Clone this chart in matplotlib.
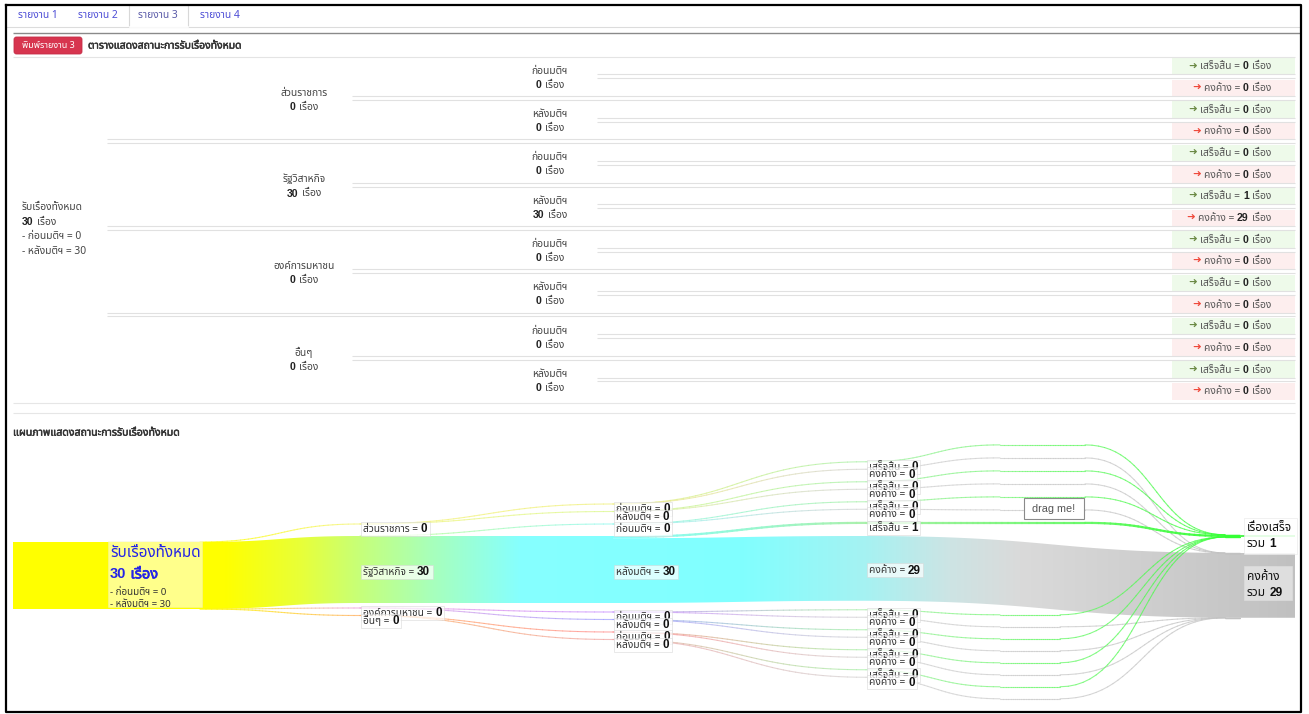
import numpy as np
import matplotlib
matplotlib.use('Agg')
import matplotlib.pyplot as plt
import matplotlib.patheffects as pe
from matplotlib import font_manager
from matplotlib.patches import Rectangle, FancyBboxPatch, Polygon
from matplotlib.collections import LineCollection
from matplotlib.colors import to_rgb

# ---------------- data ----------------
tab_labels = ['รายงาน 1', 'รายงาน 2', 'รายงาน 3', 'รายงาน 4']
active_tab = 2
print_label = 'พิมพ์รายงาน 3'
table_title = 'ตารางแสดงสถานะการรับเรื่องทั้งหมด'
chart_title = 'แผนภาพแสดงสถานะการรับเรื่องทั้งหมด'
total_label = 'รับเรื่องทั้งหมด'
unit_label = 'เรื่อง'
phase_labels = ['ก่อนมติฯ', 'หลังมติฯ']
category_labels = ['ส่วนราชการ', 'รัฐวิสาหกิจ', 'องค์การมหาชน', 'อื่นๆ']
status_labels = ['เสร็จสิ้น', 'คงค้าง']
done_counts = [[0, 0], [0, 1], [0, 0], [0, 0]]        # [category][phase]
pending_counts = [[0, 0], [0, 29], [0, 0], [0, 0]]    # [category][phase]
final_labels = ['เรื่องเสร็จ', 'คงค้าง']
sum_prefix = 'รวม'
drag_text = 'drag me!'

status_counts = [done_counts, pending_counts]
nC, nP, nS = len(category_labels), len(phase_labels), len(status_labels)
phase_counts = [[sum(status_counts[s][c][p] for s in range(nS)) for p in range(nP)] for c in range(nC)]
cat_totals = [sum(phase_counts[c]) for c in range(nC)]
phase_totals = [sum(phase_counts[c][p] for c in range(nC)) for p in range(nP)]
grand_total = sum(cat_totals)
final_totals = [sum(status_counts[s][c][p] for c in range(nC) for p in range(nP)) for s in range(nS)]


# ---------------- fonts ----------------
def find_thai_font():
    prefs = ['Noto Sans Thai', 'Noto Sans Thai UI', 'Tahoma', 'Leelawadee UI', 'Loma', 'Garuda',
             'Sarabun', 'Waree', 'Umpush', 'Kinnari', 'Norasi', 'Laksaman', 'Tlwg Typo',
             'Noto Serif Thai', 'Noto Looped Thai', 'FreeSans', 'FreeSerif']
    avail = {f.name for f in font_manager.fontManager.ttflist}
    for p in prefs:
        if p in avail:
            return p
    try:
        from fontTools.ttLib import TTFont
        seen = set()
        for f in font_manager.fontManager.ttflist:
            if f.fname in seen:
                continue
            seen.add(f.fname)
            try:
                tt = TTFont(f.fname, fontNumber=0, lazy=True)
                cm = tt.getBestCmap() or {}
                if 0x0E23 in cm and 0x0E37 in cm:
                    return f.name
            except Exception:
                continue
    except Exception:
        pass
    return None


TF = find_thai_font()
FAM = [TF, 'DejaVu Sans'] if TF else ['DejaVu Sans']
LATIN = ['Liberation Sans', 'DejaVu Sans']
plt.rcParams['font.family'] = FAM

fig = plt.figure(figsize=(13.09, 7.14), dpi=100)
ax = fig.add_axes([0, 0, 1, 1])
ax.set_xlim(0, 1309)
ax.set_ylim(714, 0)
ax.set_autoscale_on(False)
ax.axis('off')
R = fig.canvas.get_renderer()
PX = 100 / 72.0
BASE = 0.30


def is_ascii(s):
    return all(ord(ch) < 128 for ch in s)


def rich(x, y, parts, ha='left', z=5, clip=None):
    """parts: (text, size, weight, color[, family]); y = visual centre of the line (px)."""
    items = []
    for part in parts:
        s, size, weight, color = part[:4]
        fam_override = part[4] if len(part) > 4 else None
        lead = len(s) - len(s.lstrip(' '))
        trail = len(s) - len(s.rstrip(' '))
        st = s.strip(' ')
        if fam_override is not None:
            fam, fw, eff = fam_override, weight, None
        elif is_ascii(st):
            fam, fw, eff = LATIN, weight, None
        else:
            fam, fw = FAM, 'normal'
            eff = [pe.withStroke(linewidth=size * 0.045, foreground=color)] if weight == 'bold' else None
        t = ax.text(0, 0, st, fontsize=size, fontweight=fw, color=color,
                    family=fam, va='baseline', ha='left', zorder=z)
        if eff:
            t.set_path_effects(eff)
        w = t.get_window_extent(R).width if st else 0
        sp = 0.28 * size * PX
        items.append((t, lead * sp, w, trail * sp, size))
    total = sum(a + w + b for _, a, w, b, _ in items)
    if ha == 'center':
        x0 = x - total / 2
    elif ha == 'right':
        x0 = x - total
    else:
        x0 = x
    cx = x0
    for t, a, w, b, size in items:
        cx += a
        t.set_position((cx, y + BASE * size * PX))
        cx += w + b
        if clip is not None:
            t.set_clip_path(clip)
    return x0, x0 + total


def hline(y, x0, x1, color, lw=0.8, z=1.5):
    ax.plot([x0, x1], [y, y], color=color, lw=lw, zorder=z, solid_capstyle='butt')


# ---------------- frame & header ----------------
FR_L, FR_R, FR_T, FR_B = 6, 1301, 5, 712
ax.plot([FR_L, FR_R, FR_R, FR_L, FR_L], [FR_T, FR_T, FR_B, FR_B, FR_T], color='black', lw=1.6, zorder=20)

tab_x = [38, 98, 158, 220]
tab_box = (129, 188)
ax.add_patch(Rectangle((tab_box[0], FR_T), tab_box[1] - tab_box[0], 22, fc='white', ec='#d8d8d8', lw=0.8, zorder=2))
hline(27, FR_L, tab_box[0], '#dcdcdc', 0.8)
hline(27, tab_box[1], FR_R, '#dcdcdc', 0.8)
ax.plot([tab_box[0] + 0.5, tab_box[1] - 0.5], [27, 27], color='white', lw=1.2, zorder=2.5)
for i, lab in enumerate(tab_labels):
    rich(tab_x[i], 15, [(lab, 7.4, 'normal', '#4d4dd6' if i != active_tab else '#5a5aa8')], ha='center', z=3)
hline(32.5, 13, FR_R, '#8a8a8a', 1.0)

ax.add_patch(FancyBboxPatch((14, 37), 68, 17, boxstyle='round,pad=0,rounding_size=2.5',
                            fc='#d7354f', ec='#c42c46', lw=0.6, zorder=3))
rich(48, 45.5, [(print_label, 6.5, 'normal', 'white')], ha='center', z=4)
rich(88, 45.5, [(table_title, 7.5, 'bold', '#333333')], z=4)
hline(56.5, 13, 1295, '#e4e4e4', 0.8)

# ---------------- table ----------------
T0, RH = 57.0, 21.65
TAB_R = 1295
X_CAT, X_SUB, X_RES = 304, 550, 1271
X_CATLINE, X_SUBLINE, X_RESLINE = 107, 352, 597
RES_BG_X0 = 1172
res_bg = ['#eefaea', '#fdeeee']
arrow_col = ['#6b8a45', '#ef4a3c']
LINE_C = '#e1e1e1'
FS = 7.4
FSB = 7.6
n_rows = nC * nP * nS

for c in range(nC):
    for p in range(nP):
        for s in range(nS):
            r = (c * nP + p) * nS + s
            top = T0 + RH * r
            ax.add_patch(Rectangle((RES_BG_X0, top + 1.0), TAB_R - RES_BG_X0, RH - 4.2,
                                   fc=res_bg[s], ec='none', zorder=1))
            v = status_counts[s][c][p]
            rich(X_RES, top + RH / 2 - 1.5,
                 [('➜', 7.5, 'normal', arrow_col[s], ['DejaVu Sans']),
                  (' ' + status_labels[s] + ' = ', FS, 'normal', '#555555'),
                  (str(v), FSB, 'bold', '#222222'),
                  (' ' + unit_label, FS, 'normal', '#555555')], ha='right', z=3)

for r in range(1, n_rows):
    b = T0 + RH * r
    if r % (nP * nS) == 0:
        x0 = X_CATLINE
    elif r % nS == 0:
        x0 = X_SUBLINE
    else:
        x0 = X_RESLINE
    hline(b - 4.2, x0, TAB_R, LINE_C, 0.8)
    hline(b - 0.3, x0, TAB_R, LINE_C, 0.8)
b_end = T0 + RH * n_rows
hline(b_end, 13, TAB_R, '#e6e6e6', 0.8)
hline(b_end + 9.5, 13, TAB_R, '#e6e6e6', 0.8)

# category column
for c in range(nC):
    cy = T0 + RH * nP * nS * (c + 0.5)
    rich(X_CAT, cy - 7.5, [(category_labels[c], FS, 'normal', '#444444')], ha='center', z=3)
    rich(X_CAT, cy + 6.5, [(str(cat_totals[c]), FSB, 'bold', '#222222'),
                           (' ' + unit_label, FS, 'normal', '#444444')], ha='center', z=3)
    for p in range(nP):
        sy = T0 + RH * nS * (c * nP + p + 0.5)
        rich(X_SUB, sy - 8.0, [(phase_labels[p], FS, 'normal', '#444444')], ha='center', z=3)
        rich(X_SUB, sy + 6.0, [(str(phase_counts[c][p]), FSB, 'bold', '#222222'),
                               (' ' + unit_label, FS, 'normal', '#444444')], ha='center', z=3)

# left summary column
mid = T0 + RH * n_rows / 2
rich(22, mid - 23, [(total_label, FS, 'normal', '#444444')], z=3)
rich(22, mid - 8.5, [(str(grand_total), FSB, 'bold', '#222222'), (' ' + unit_label, FS, 'normal', '#444444')], z=3)
for p in range(nP):
    rich(22, mid + 6 + 14.5 * p, [('- ' + phase_labels[p] + ' = ' + str(phase_totals[p]), FS, 'normal', '#444444')], z=3)

rich(13, 432.5, [(chart_title, 7.6, 'bold', '#333333')], z=3)

# ---------------- sankey ----------------
K = 67.0 / 30.0               # px per item
X = [13, 360, 613, 866, 1240]
X_OUT = [200, 360, 613, 866, 1295]
X_END = 1295

cols = [
    [dict(val=grand_total, grp='root')],
    [dict(val=cat_totals[c], grp='T') for c in range(nC)],
    [dict(val=phase_counts[c][p], grp=c) for c in range(nC) for p in range(nP)],
    [dict(val=status_counts[s][c][p], grp=(c, p)) for c in range(nC) for p in range(nP) for s in range(nS)],
    [dict(val=final_totals[s], grp='F') for s in range(nS)],
]
lay = [(542, 0, 0, 0, 0), (536, 12, 5, 7.5, 12.5), (536, 12, 9, 7.5, 12.5),
       (536, 12, 9, 7.5, 12.5), (553, 16, 9, 7.5, 12.5)]

for ci, nodes in enumerate(cols):
    anchor, fa, fb, same, diff = lay[ci]
    vals = [n['val'] for n in nodes]
    big = int(np.argmax(vals))
    nodes[big]['top'] = anchor
    prev = anchor + vals[big] * K
    for i in range(big + 1, len(nodes)):
        g = fb if i == big + 1 else (same if nodes[i]['grp'] == nodes[i - 1]['grp'] else diff)
        nodes[i]['top'] = prev + g
        prev = nodes[i]['top'] + vals[i] * K
    prev = anchor
    for i in range(big - 1, -1, -1):
        g = fa if i == big - 1 else (same if nodes[i]['grp'] == nodes[i + 1]['grp'] else diff)
        nodes[i]['top'] = prev - g - vals[i] * K
        prev = nodes[i]['top']
    for n in nodes:
        n['h'] = n['val'] * K
        n['col'] = ci
    cols[ci] = nodes

links = []
for c in range(nC):
    links.append(dict(sc=0, si=0, tc=1, ti=c, v=cat_totals[c]))
for c in range(nC):
    for p in range(nP):
        links.append(dict(sc=1, si=c, tc=2, ti=c * nP + p, v=phase_counts[c][p]))
for c in range(nC):
    for p in range(nP):
        for s in range(nS):
            links.append(dict(sc=2, si=c * nP + p, tc=3, ti=(c * nP + p) * nS + s, v=status_counts[s][c][p]))
for c in range(nC):
    for p in range(nP):
        for s in range(nS):
            links.append(dict(sc=3, si=(c * nP + p) * nS + s, tc=4, ti=s, v=status_counts[s][c][p]))

# offsets (d3-like stacking)
for ci in range(5):
    for ni, node in enumerate(cols[ci]):
        outs = sorted([l for l in links if l['sc'] == ci and l['si'] == ni], key=lambda l: cols[l['tc']][l['ti']]['top'])
        y = node['top']
        for l in outs:
            l['sy0'] = y
            y += l['v'] * K
            l['sy1'] = y
        ins = sorted([l for l in links if l['tc'] == ci and l['ti'] == ni], key=lambda l: cols[l['sc']][l['si']]['top'])
        y = node['top']
        for l in ins:
            l['ty0'] = y
            y += l['v'] * K
            l['ty1'] = y

node_col = [
    ['#ffff00'],
    ['#f4f47a', '#c0ff80', '#f0a0e0', '#ffb060'],
    ['#f0f080', '#dcf890', '#90f8f0', '#80ffff', '#c890ff', '#a0a0ff', '#ff9090', '#f0a8a8'],
    ['#a8f0a8', '#d4d4d4'] * (nC * nP),
    ['#33ff33', '#c2c2c2'],
]


def bez(x0, y0, x1, y1, n=40):
    t = np.linspace(0, 1, n)
    xm = (x0 + x1) / 2
    bx = (1 - t) ** 3 * x0 + 3 * (1 - t) ** 2 * t * xm + 3 * (1 - t) * t ** 2 * xm + t ** 3 * x1
    by = (1 - t) ** 3 * y0 + 3 * (1 - t) ** 2 * t * y0 + 3 * (1 - t) * t ** 2 * y1 + t ** 3 * y1
    return bx, by


def spath(pts, n=30):
    xs, ys = [pts[0][0]], [pts[0][1]]
    for (x0, y0), (x1, y1) in zip(pts[:-1], pts[1:]):
        bx, by = bez(x0, y0, x1, y1, n)
        xs.extend(bx[1:])
        ys.extend(by[1:])
    return np.array(xs), np.array(ys)


def grad_line(xs, ys, c0, c1, lw_px, alpha, z):
    pts = np.column_stack([xs, ys])
    segs = np.stack([pts[:-1], pts[1:]], axis=1)
    xm = (xs[:-1] + xs[1:]) / 2
    f = np.clip((xm - xs[0]) / max(xs[-1] - xs[0], 1e-6), 0, 1)
    a, b = np.array(to_rgb(c0)), np.array(to_rgb(c1))
    cc = a[None, :] * (1 - f[:, None]) + b[None, :] * f[:, None]
    cc = np.column_stack([cc, np.full(len(f), alpha)])
    ax.add_collection(LineCollection(segs, colors=cc, linewidths=lw_px * 0.72, zorder=z, capstyle='round'))


# levels used by the last stage (status -> final)
c3 = cols[3]
big3 = int(np.argmax([n['val'] for n in c3]))
up_ref = c3[big3 - 1]['top'] + c3[big3 - 1]['h'] / 2
low_ref = c3[big3 + 1]['top'] + 5


def last_stage_path(l):
    i = l['si']
    sy = (l['sy0'] + l['sy1']) / 2
    ty = (l['ty0'] + l['ty1']) / 2
    if i < big3:
        level = up_ref - 13 * (big3 - 1 - i)
        pts = [(X[3], sy), (1000, level), (1085, level), (1225, ty), (X[4], ty)]
    else:
        level = low_ref + 12 * (i - big3 - 1)
        pts = [(X[3], sy), (1000, level), (1060, level), (1225, ty), (X[4], ty)]
    if abs(sy - level) < 0.5:
        pts = pts[0:1] + pts[2:]
    return spath(pts)


# main band (chain of thick links)
chain = []
cur = (0, 0)
while True:
    outs = [l for l in links if (l['sc'], l['si']) == cur and l['v'] * K >= 4]
    if not outs:
        break
    l = max(outs, key=lambda q: q['v'])
    chain.append(l)
    cur = (l['tc'], l['ti'])

n0 = cols[0][0]
bx_all = [np.array([X[0], X_OUT[0]])]
top_all = [np.array([n0['top'], n0['top']])]
bot_all = [np.array([n0['top'] + n0['h'], n0['top'] + n0['h']])]
for l in chain:
    x0, x1 = X_OUT[l['sc']], X[l['tc']]
    bx, bt = bez(x0, l['sy0'], x1, l['ty0'])
    _, bb = bez(x0, l['sy1'], x1, l['ty1'])
    bx_all.append(bx); top_all.append(bt); bot_all.append(bb)
endn = cols[cur[0]][cur[1]]
bx_all.append(np.array([X[cur[0]], X_END]))
top_all.append(np.array([endn['top'], endn['top']]))
bot_all.append(np.array([endn['top'] + endn['h']] * 2))
bx_all = np.concatenate(bx_all)
top_all = np.concatenate(top_all)
bot_all = np.concatenate(bot_all)
outline = np.vstack([np.column_stack([bx_all, top_all]), np.column_stack([bx_all[::-1], bot_all[::-1]])])

ramp_x = [13, 225, 300, 360, 430, 520, 740, 866, 950, 1020, 1240, 1295]
ramp_c = ['#ffff00', '#ffff00', '#e8ff38', '#c6ff7a', '#a8ffba', '#86ffff', '#80ffff', '#a6f2f2',
          '#cde4e4', '#dadada', '#c6c6c6', '#c0c0c0']
gx = np.arange(X[0], X_END + 1)
rgb = np.column_stack([np.interp(gx, ramp_x, [to_rgb(c)[k] for c in ramp_c]) for k in range(3)])
im = ax.imshow(rgb[np.newaxis, :, :], extent=[X[0], X_END + 1, 640, 520], aspect='auto',
               interpolation='bilinear', zorder=2)
clip_poly = Polygon(outline, closed=True, fc='none', ec='none', transform=ax.transData)
ax.add_patch(clip_poly)
im.set_clip_path(clip_poly)

# other links
chain_ids = {id(l) for l in chain}
for l in links:
    if id(l) in chain_ids:
        continue
    c0 = node_col[l['sc']][l['si']]
    c1 = node_col[l['tc']][l['ti']]
    if l['sc'] == 3:
        xs, ys = last_stage_path(l)
    else:
        xs, ys = bez(X_OUT[l['sc']], (l['sy0'] + l['sy1']) / 2, X[l['tc']], (l['ty0'] + l['ty1']) / 2)
    if l['v'] == 0:
        grad_line(xs, ys, c0, c1, 1.1, 0.75, 3)
    else:
        grad_line(xs, ys, c0, c1, max(l['v'] * K, 1.2), 0.95, 3.5)

# final 'done' node
fd = cols[4][0]
ax.add_patch(Rectangle((X[4], fd['top']), X_END - X[4], max(fd['h'], 1.5), fc='#55f555', ec='none', zorder=3.5))

# node labels
zc = [10]


def node_label(x, y, parts):
    z = zc[0]
    zc[0] += 1
    x0, x1 = rich(x + 3, y, parts, z=z + 0.5)
    ax.add_patch(Rectangle((x + 0.5, y - 7), x1 - x0 + 5, 14, fc='white', alpha=0.72,
                           ec='#d5d5d5', lw=0.5, zorder=z))


LFS, LFB = 7.3, 8.4
for ci, names in [(1, category_labels),
                  (2, [phase_labels[p] for c in range(nC) for p in range(nP)]),
                  (3, [status_labels[s] for c in range(nC) for p in range(nP) for s in range(nS)])]:
    for ni, node in enumerate(cols[ci]):
        if node['h'] >= 10:
            ly = node['top'] + node['h'] / 2 + 2
        elif node['h'] > 0:
            ly = node['top'] + node['h'] / 2 + 5
        else:
            ly = node['top'] + 5
        node_label(X[ci], ly, [(names[ni] + ' = ', LFS, 'normal', '#333333'),
                               (str(node['val']), LFB, 'bold', '#111111')])

# root label
ax.add_patch(Rectangle((108, n0['top'] - 1), 94, n0['h'] - 1, fc='white', alpha=0.55, ec='#f0f0c0', lw=0.5, zorder=8))
rich(110, n0['top'] + 10, [(total_label, 11.0, 'normal', '#2424e6')], z=9)
rich(110, n0['top'] + 32, [(str(grand_total), 10.5, 'bold', '#2424e6'), (' ' + unit_label, 10.5, 'bold', '#2424e6')], z=9)
for p in range(nP):
    rich(110, n0['top'] + 50 + 12 * p, [('- ' + phase_labels[p] + ' = ' + str(phase_totals[p]), 7.0, 'normal', '#333333')], z=9)

# final labels
clipr = Rectangle((0, 0), 1297, 714, transform=ax.transData, fc='none', ec='none')
ax.add_patch(clipr)
fbox = [('white', 0.85), ('#e2e2e2', 0.9)]
for s in range(nS):
    n = cols[4][s]
    if s == 0:
        y1 = n['top'] - 7
        ax.add_patch(Rectangle((1244, n['top'] - 17), 53, 36, fc=fbox[s][0], alpha=fbox[s][1], ec='#e8e8e8', lw=0.5, zorder=9))
    else:
        y1 = n['top'] + n['h'] / 2 - 9
        ax.add_patch(Rectangle((1244, y1 - 10), 48, 34, fc=fbox[s][0], alpha=fbox[s][1], ec='#dddddd', lw=0.5, zorder=9))
    rich(1247, y1, [(final_labels[s], 8.6, 'normal', '#111111')], z=10, clip=clipr)
    rich(1247, y1 + 16, [(sum_prefix + ' ', 8.6, 'normal', '#111111'), (str(final_totals[s]), 8.6, 'bold', '#111111')], z=10, clip=clipr)

# drag hint
ax.add_patch(Rectangle((1024, 498), 60, 21, fc='white', ec='#8a8a8a', lw=0.8, zorder=12))
rich(1054, 508.5, [(drag_text, 7.8, 'normal', '#555555')], ha='center', z=13)

fig.savefig('out.png', dpi=100)
